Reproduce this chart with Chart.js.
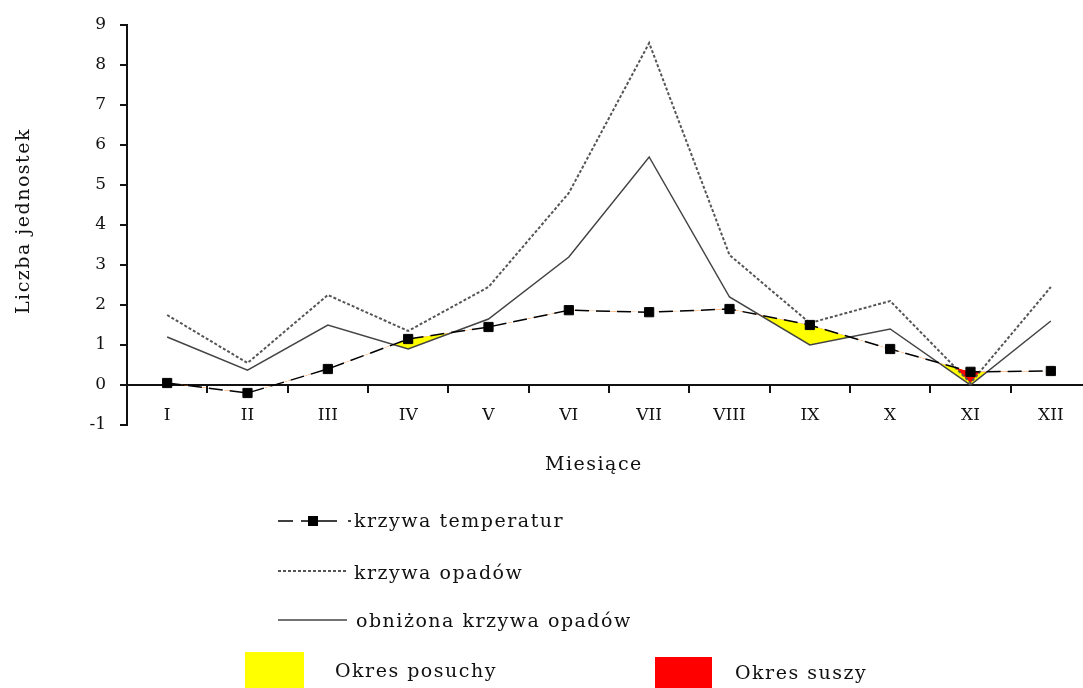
<!DOCTYPE html>
<html>
<head>
<meta charset="utf-8">
<script src="https://cdn.jsdelivr.net/npm/chart.js@4"></script>
<style>
  html, body { margin: 0; padding: 0; overflow: hidden; background: #fff; }
  #wrap { position: relative; width: 1083px; height: 688px; overflow: hidden; }
  #c { position: absolute; left: 0; top: 0; }
  .t { position: absolute; font-family: "DejaVu Serif", serif; font-size: 19px; line-height: 24px; color: #111; white-space: nowrap; letter-spacing: 1.5px; }
  svg { position: absolute; left: 0; top: 0; }
</style>
</head>
<body>
<div id="wrap">
  <canvas id="c" width="1100" height="688"></canvas>
  <svg width="1083" height="688">
    <line x1="278" y1="521" x2="293" y2="521" stroke="#000" stroke-width="1.5"/>
    <line x1="301" y1="521" x2="337" y2="521" stroke="#000" stroke-width="1.5"/>
    <rect x="308" y="516" width="10" height="10" fill="#000"/>
    <line x1="348" y1="521" x2="351" y2="521" stroke="#000" stroke-width="1.5"/>
    <line x1="278" y1="571" x2="347" y2="571" stroke="#555" stroke-width="2" stroke-dasharray="3,2"/>
    <line x1="278" y1="620" x2="347" y2="620" stroke="#444" stroke-width="1.5"/>
    <rect x="245" y="652" width="59" height="36" fill="#ffff00"/>
    <rect x="655" y="657" width="57" height="31" fill="#ff0000"/>
  </svg>
  <div class="t" style="left:0px; top:0px; width:185px; text-align:center; transform-origin:0 0; transform: translate(10px, 314px) rotate(-90deg);">Liczba jednostek</div>
  <div class="t" style="left:545px; top:451px;">Miesiące</div>
  <div class="t" style="left:354px; top:508px;">krzywa temperatur</div>
  <div class="t" style="left:354px; top:560px;">krzywa opadów</div>
  <div class="t" style="left:356px; top:608px;">obniżona krzywa opadów</div>
  <div class="t" style="left:335px; top:658px;">Okres posuchy</div>
  <div class="t" style="left:735px; top:660px;">Okres suszy</div>
</div>
<script>
const months = ['I', 'II', 'III', 'IV', 'V', 'VI', 'VII', 'VIII', 'IX', 'X', 'XI', 'XII'];
const temperature = [0.05, -0.2, 0.4, 1.15, 1.45, 1.87, 1.82, 1.9, 1.5, 0.9, 0.33, 0.35];
const precipitation = [1.75, 0.55, 2.25, 1.35, 2.45, 4.8, 8.55, 3.25, 1.55, 2.1, 0.05, 2.45];
const reducedPrecipitation = [1.2, 0.37, 1.5, 0.9, 1.65, 3.2, 5.7, 2.2, 1.0, 1.4, 0.0, 1.6];
const yMin = -1, yMax = 9, yStep = 1;

const tickFont = { family: 'DejaVu Serif', size: 17 };

new Chart(document.getElementById('c'), {
  type: 'line',
  data: {
    labels: months,
    datasets: [
      {
        label: 'krzywa temperatur',
        data: temperature,
        borderColor: '#000',
        borderWidth: 1.5,
        borderDash: [14, 7],
        pointStyle: 'rect',
        pointRadius: 6.5,
        pointBackgroundColor: '#000',
        pointBorderColor: '#000',
        pointBorderWidth: 1,
        fill: false,
        tension: 0
      },
      {
        label: 'krzywa opadów',
        data: precipitation,
        borderColor: '#555',
        borderWidth: 2,
        borderDash: [3, 2],
        pointRadius: 0,
        fill: { target: 0, above: 'rgba(0,0,0,0)', below: '#ff0000' },
        tension: 0
      },
      {
        label: 'obniżona krzywa opadów',
        data: reducedPrecipitation,
        borderColor: '#444',
        borderWidth: 1.5,
        pointRadius: 0,
        fill: { target: 0, above: 'rgba(0,0,0,0)', below: '#ffff00' },
        tension: 0
      }
    ]
  },
  options: {
    responsive: false,
    animation: false,
    events: [],
    layout: { padding: { left: 87, right: 9, top: 25, bottom: 263 } },
    plugins: { legend: { display: false }, tooltip: { enabled: false } },
    scales: {
      x: {
        position: { y: 0 },
        offset: true,
        grid: { offset: true, drawOnChartArea: false, drawTicks: true, tickLength: 7, color: '#111', lineWidth: 2 },
        border: { display: true, color: '#111', width: 2 },
        ticks: { color: '#111', font: tickFont, padding: 13, maxRotation: 0, autoSkip: false }
      },
      y: {
        min: yMin,
        max: yMax,
        afterFit: (s) => { s.width = 40; },
        grid: { drawOnChartArea: false, drawTicks: true, tickLength: 7, color: '#111', lineWidth: 2 },
        border: { display: true, color: '#111', width: 2 },
        ticks: { stepSize: yStep, color: '#111', font: tickFont, padding: 14 }
      }
    }
  }
});
</script>
</body>
</html>
